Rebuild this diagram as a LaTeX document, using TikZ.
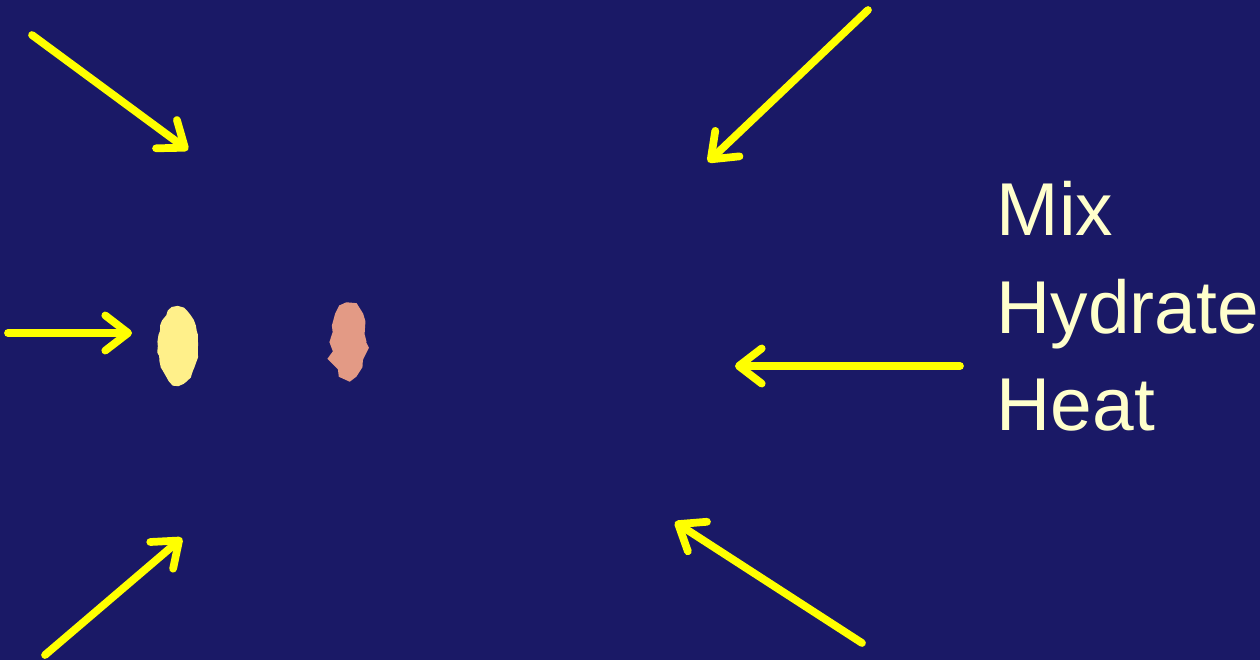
\documentclass[tikz,border=0pt]{standalone}
\usepackage{fontspec}
\setmainfont{Liberation Sans}
\usetikzlibrary{arrows.meta, decorations.pathmorphing}
\definecolor{kbg}{HTML}{1A1966}
\definecolor{karrow}{HTML}{FFFF00}
\definecolor{ktext}{HTML}{FFFFCC}
\definecolor{kseed}{HTML}{FFF08A}
\definecolor{kpink}{HTML}{E39A85}

\tikzset{
  inarrow/.style={karrow, line width=2.2pt, line cap=round,
    -{Straight Barb[length=6.5pt, width=10pt, round, line width=2.2pt]}},
  blob/.style={decorate, decoration={random steps, segment length=1.5pt, amplitude=0.3pt}}
}

\begin{document}
\begin{tikzpicture}[x=0.01cm, y=-0.01cm]

  %% Background
  \fill[kbg] (0,0) rectangle (1260,660);
  \useasboundingbox (0,0) rectangle (1260,660);

  %% Arrow ends
  \coordinate (a1s) at (32,35);   \coordinate (a1e) at (188,150);
  \coordinate (a2s) at (868,10);  \coordinate (a2e) at (708,162);
  \coordinate (a3s) at (8,333);   \coordinate (a3e) at (132,333);
  \coordinate (a4s) at (960,366); \coordinate (a4e) at (735,366);
  \coordinate (a5s) at (45,655);  \coordinate (a5e) at (182,538);
  \coordinate (a6s) at (862,643); \coordinate (a6e) at (675,522);

  \foreach \k in {1,...,6}{
    \draw[inarrow] (a\k s) -- (a\k e);
  }

  %% Blobs
  \fill[kseed, blob] (178,346) ellipse (20 and 39);
  \fill[kpink, blob, decoration={random steps, segment length=2.5pt, amplitude=0.9pt}]
    (348,342) ellipse (18 and 37);

  %% Label
  \node[font=\fontsize{21.3pt}{27.6pt}\selectfont, text=ktext, align=left,
    anchor=north west, inner sep=0pt] (steps) at (996,181)
    {Mix\\Hydrate\\Heat};

\end{tikzpicture}
\end{document}
